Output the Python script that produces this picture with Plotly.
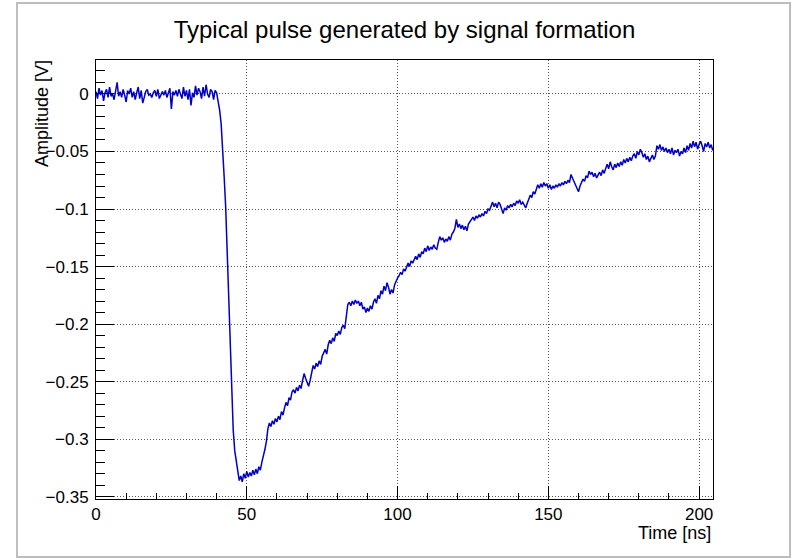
import plotly.graph_objects as go

# ---- data (amplitude in mV, sampled every 0.5 ns starting at 0 ns) ----
time_start_ns = 0.0
time_step_ns = 0.5

baseline_mV = [  # t = 0 .. 39.5 ns
    2, -4, 5, -1, 3, -6, 1, 4, -3, 6,
    -2, 0, -5, 3, 10, -2, 2, -3, 4, -1,
    -7, 3, 0, 5, -3, 2, -5, 1, 6, -4,
    3, -8, -2, 2, 4, -1, 0, -3, 1, 3,
    -2, 4, -4, 0, 2, -1, 3, -3, 1, 5,
    -13, 2, -1, 3, -2, 4, 0, -4, 6, -2,
    3, -5, 4, -10, 1, -3, 7, -1, 5, 2,
    -4, 6, -2, 8, 0, -3, 4, 2, -5, 3,
]

leading_edge_mV = [  # t = 40 .. 54.5 ns
    1, -6, -14, -26, -45, -72, -98, -140, -185, -228,
    -262, -292, -310, -320, -330, -336, -332, -337, -330, -334,
    -328, -333, -329, -332, -327, -331, -326, -330, -324, -327,
]

recovery_mV = [  # t = 55 .. 205 ns
    -320, -315, -309, -302, -291, -286, -289, -284, -287, -282,
    -285, -280, -283, -276, -279, -273, -268, -271, -264, -266,
    -259, -257, -260, -255, -258, -253, -256, -249, -243, -247,
    -250, -254, -249, -241, -236, -239, -234, -237, -232, -235,
    -228, -225, -222, -226, -218, -214, -217, -212, -215, -208,
    -210, -206, -209, -203, -201, -204, -195, -183, -181, -184,
    -180, -183, -179, -182, -180, -184, -181, -187, -185, -190,
    -186, -189, -184, -187, -181, -178, -182, -175, -178, -171,
    -174, -167, -171, -164, -168, -174, -170, -173, -166, -162,
    -160, -158, -155, -157, -152, -154, -150, -147, -150, -145,
    -147, -143, -141, -144, -139, -142, -137, -139, -134, -137,
    -132, -136, -133, -135, -131, -134, -135, -129, -124, -127,
    -125, -129, -126, -128, -124, -127, -122, -120, -117, -109,
    -116, -113, -117, -114, -118, -115, -119, -113, -111, -108,
    -107, -110, -106, -108, -105, -107, -104, -106, -102, -104,
    -100, -101, -97, -94, -98, -95, -99, -94, -96, -100,
    -104, -99, -101, -97, -99, -96, -98, -95, -97, -93,
    -95, -92, -96, -94, -97, -99, -95, -91, -88, -90,
    -85, -87, -83, -79, -82, -78, -81, -77, -80, -78,
    -82, -79, -83, -80, -82, -79, -81, -78, -80, -77,
    -79, -76, -78, -75, -77, -70, -73, -76, -79, -83,
    -85, -80, -77, -74, -76, -71, -73, -67, -70, -68,
    -72, -69, -73, -70, -68, -71, -66, -69, -64, -61,
    -65, -59, -63, -66, -61, -64, -60, -63, -59, -62,
    -57, -60, -56, -59, -55, -58, -54, -52, -56, -50,
    -53, -48, -51, -55, -52, -57, -54, -59, -56, -53,
    -57, -54, -45, -48, -44, -49, -46, -50, -47, -51,
    -48, -52, -47, -53, -49, -51, -48, -54, -50, -52,
    -47, -51, -45, -49, -43, -47, -41, -46, -42, -48,
    -44, -41, -45, -50, -43, -46, -42, -47, -44, -49,
    -46,
]

title_text = "Typical pulse generated by signal formation"
x_title = "Time [ns]"
y_title = "Amplitude [V]"

amplitude_V = [v / 1000.0 for v in baseline_mV + leading_edge_mV + recovery_mV]

FONT = "Liberation Sans, Arial, Helvetica, sans-serif"

fig = go.Figure()
fig.add_trace(go.Scatter(
    y=amplitude_V, x0=time_start_ns, dx=time_step_ns,
    mode="lines", line=dict(color="#0000c8", width=1.5),
    hoverinfo="skip", showlegend=False,
))

axis_common = dict(
    showline=True, mirror=True, linecolor="black", linewidth=1,
    ticks="inside", tickcolor="black", tickwidth=1,
    showgrid=True, gridcolor="#555555", gridwidth=1, griddash="1px,2px",
    zeroline=False,
    tickfont=dict(family=FONT, size=17, color="black"),
)

fig.update_xaxes(
    range=[0, 204.6], tick0=0, dtick=50, ticklen=13,
    minor=dict(dtick=10, ticklen=6, ticks="inside", tickcolor="black", showgrid=False),
    **axis_common,
)
fig.update_yaxes(
    range=[-0.352, 0.0295], tick0=0, dtick=0.05, ticklen=18,
    minor=dict(dtick=0.01, ticklen=9, ticks="inside", tickcolor="black", showgrid=False),
    ticklabelstandoff=3,
    **axis_common,
)

fig.update_layout(
    width=792, height=558,
    margin=dict(l=96, r=79, t=60, b=59),
    paper_bgcolor="white", plot_bgcolor="white",
    title=dict(text=title_text, x=0.5, xref="paper", xanchor="center",
               y=0.947, yref="container", yanchor="middle",
               font=dict(family=FONT, size=24, color="black")),
    annotations=[
        dict(text=x_title, xref="paper", yref="paper", x=1.0, y=-0.077,
             xanchor="right", yanchor="middle", showarrow=False,
             font=dict(family=FONT, size=18, color="black")),
        dict(text=y_title, xref="paper", yref="paper", x=-0.0867, y=1.0046,
             xanchor="center", yanchor="top", textangle=-90, showarrow=False,
             font=dict(family=FONT, size=18, color="black")),
    ],
    shapes=[
        dict(type="rect", xref="paper", yref="paper",
             x0=-0.128, x1=1.1248, y0=-0.1321, y1=1.1298,
             line=dict(color="#bdbdbd", width=2), fillcolor="rgba(0,0,0,0)", layer="below"),
    ],
)

fig.write_html("out.html")
